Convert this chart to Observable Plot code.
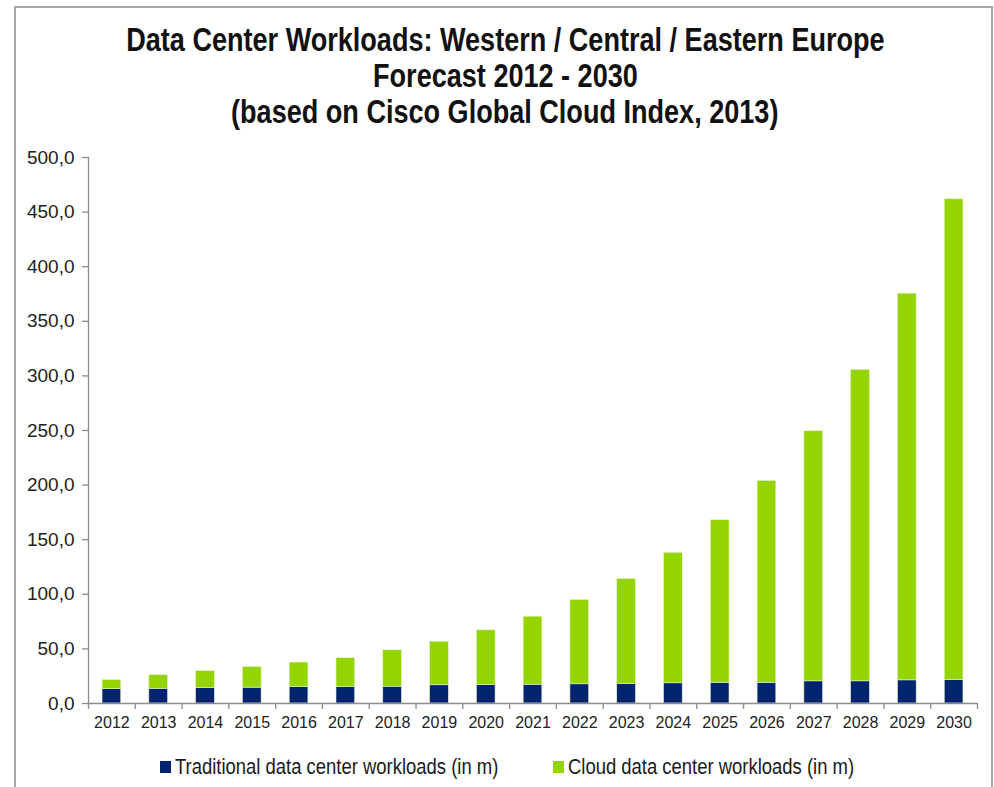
<!DOCTYPE html>
<html>
<head>
<meta charset="utf-8">
<script src="https://cdn.jsdelivr.net/npm/d3@7"></script>
<script src="https://cdn.jsdelivr.net/npm/@observablehq/plot@0.6"></script>
<style>
  html, body { margin: 0; padding: 0; background: #fff; }
  body { width: 994px; height: 787px; position: relative; overflow: hidden; }
  #frame { position: absolute; left: 14px; top: 6px; width: 975px; height: 800px;
    border-left: 2px solid #a8a8a8; border-top: 2px solid #a8a8a8; border-right: 2px solid #a8a8a8; box-sizing: content-box; }
  #title { position: absolute; left: 0; width: 1010px; top: 22px; text-align: center;
    font-family: "Liberation Sans", Arial, sans-serif;
    font-weight: bold; font-size: 33px; line-height: 36px; color: #111; }
  #title span { display: inline-block; transform: scaleX(0.82); transform-origin: center; white-space: nowrap; }
  #chart { position: absolute; left: 0; top: 140px; }
  #legend { position: absolute; top: 754px; left: 0; width: 994px; height: 30px;
    font-family: "Liberation Sans", Arial, sans-serif;
    font-size: 22.5px; color: #1a1a1a; }
  .item { position: absolute; display: flex; align-items: center; white-space: nowrap; }
  .sw { width: 11px; height: 12px; margin-right: 4px; }
  .lt { display: inline-block; transform: scaleX(0.82); transform-origin: left center; }
</style>
</head>
<body>
<div id="frame"></div>
<div id="title"><span>Data Center Workloads: Western / Central / Eastern Europe</span><br><span>Forecast 2012 - 2030</span><br><span>(based on Cisco Global Cloud Index, 2013)</span></div>
<div id="chart"></div>
<div id="legend"></div>
<script>
const years = ["2012","2013","2014","2015","2016","2017","2018","2019","2020","2021","2022","2023","2024","2025","2026","2027","2028","2029","2030"];
const traditional = [13.3, 13.5, 14.0, 14.5, 15.0, 15.2, 15.4, 16.7, 16.8, 17.2, 17.6, 17.9, 18.5, 19.0, 19.0, 20.3, 20.3, 21.2, 21.5];
const totals = [21.5, 25.9, 29.6, 33.3, 37.5, 41.5, 48.7, 56.6, 67.0, 79.5, 94.8, 114.0, 138.0, 167.8, 203.8, 249.3, 305.4, 375.3, 461.7];
const cloud = totals.map((t, i) => +(t - traditional[i]).toFixed(1));
const seriesNames = ["Traditional data center workloads (in m)", "Cloud data center workloads (in m)"];
const seriesColors = ["#00246e", "#94d500"];
const yTicks = [0, 50, 100, 150, 200, 250, 300, 350, 400, 450, 500];

const data = [];
years.forEach((y, i) => {
  data.push({year: y, series: seriesNames[0], value: traditional[i]});
  data.push({year: y, series: seriesNames[1], value: cloud[i]});
});

const W = 994, ML = 88, MR = 17;
const half = (W - ML - MR) / years.length / 2;
const fmt = d => d.toFixed(1).replace(".", ",");
const axisGray = "#8c8c8c";

const chart = Plot.plot({
  width: W,
  height: 603,
  marginTop: 17,
  marginBottom: 40,
  marginLeft: ML,
  marginRight: MR,
  style: {background: "transparent", overflow: "visible"},
  x: {domain: years, paddingInner: 0.6, paddingOuter: 0.3, align: 0.5, round: false},
  y: {domain: [0, 500]},
  color: {domain: seriesNames, range: seriesColors},
  marks: [
    Plot.barY(data, {x: "year", y: "value", fill: "series", stroke: "#e6f2cc", strokeWidth: 0.6}),
    Plot.ruleY([0], {stroke: axisGray, strokeWidth: 1.3}),
    Plot.frame({anchor: "left", stroke: axisGray, strokeWidth: 1.3}),
    Plot.ruleX(years, {x: d => d, dx: -half, y1: 0, y2: -5.5, stroke: axisGray, strokeWidth: 1.3}),
    Plot.ruleX([years[years.length - 1]], {x: d => d, dx: half, y1: 0, y2: -5.5, stroke: axisGray, strokeWidth: 1.3}),
    Plot.axisY({ticks: yTicks, tickFormat: fmt, tickSize: 6, tickPadding: 8, fontSize: 19,
      stroke: axisGray, strokeWidth: 1.3,
      fontFamily: "Liberation Sans, Arial, sans-serif", fill: "#222", label: null}),
    Plot.axisX({tickSize: 0, tickPadding: 13, fontSize: 16,
      fontFamily: "Liberation Sans, Arial, sans-serif", fill: "#222", label: null})
  ]
});
document.getElementById("chart").appendChild(chart);

const legend = document.getElementById("legend");
const positions = [160, 553];
seriesNames.forEach((n, i) => {
  const it = document.createElement("div");
  it.className = "item";
  it.style.left = positions[i] + "px";
  it.innerHTML = `<span class="sw" style="background:${seriesColors[i]}"></span><span class="lt">${n}</span>`;
  legend.appendChild(it);
});
</script>
</body>
</html>
